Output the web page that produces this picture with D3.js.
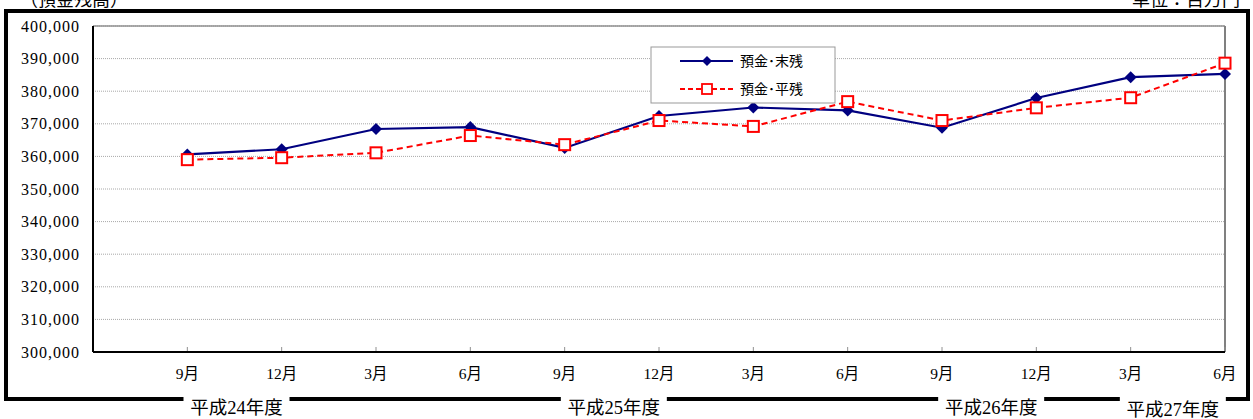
<!DOCTYPE html>
<html>
<head>
<meta charset="utf-8">
<script src="https://cdn.jsdelivr.net/npm/d3@7"></script>
<style>
  html, body { margin: 0; padding: 0; background: #fff; }
  svg { display: block; }
  text { font-family: "Liberation Serif", "Noto Sans CJK JP", serif; fill: #000; }
</style>
</head>
<body>
<svg id="chart" width="1253" height="419"></svg>
<script>
// ---- data ----
const categories = ["9月", "12月", "3月", "6月", "9月", "12月", "3月", "6月", "9月", "12月", "3月", "6月"];
const endBalance = [360600, 362200, 368400, 369000, 362600, 372400, 375000, 374100, 368800, 377900, 384300, 385300];
const avgBalance = [359000, 359600, 361100, 366400, 363600, 371000, 369200, 376800, 371000, 374900, 378000, 388600];
const seriesNames = ["預金･末残", "預金･平残"];
const yTicks = [300000, 310000, 320000, 330000, 340000, 350000, 360000, 370000, 380000, 390000, 400000];
const yearLabels = ["平成24年度", "平成25年度", "平成26年度", "平成27年度"];
const yearLabelSpan = [[0, 1], [4, 5], [8, 9], [10, 11]];
const titleLeft = "（預金残高）";
const titleRight = "単位：百万円";

// ---- layout ----
const svg = d3.select("#chart");
const plot = { left: 93, right: 1225, top: 26, bottom: 352 };

const x = d3.scaleLinear().domain([0, categories.length]).range([plot.left, plot.right]);
const y = d3.scaleLinear().domain([300000, 400000]).range([plot.bottom, plot.top]);
const px = i => x(i + 1);

// titles (cut by the top edge, as in the reference)
svg.append("text").attr("x", 20).attr("y", 6).attr("font-size", 18).text(titleLeft);
svg.append("text").attr("x", 1240).attr("y", 6).attr("text-anchor", "end").attr("font-size", 18).text(titleRight);

// outer frame
svg.append("rect").attr("x", 6).attr("y", 11).attr("width", 1242).attr("height", 388)
  .attr("fill", "none").attr("stroke", "#000").attr("stroke-width", 4);

// gridlines
svg.append("g").selectAll("line").data(yTicks.filter(d => d !== 300000)).join("line")
  .attr("x1", plot.left).attr("x2", plot.right)
  .attr("y1", d => y(d)).attr("y2", d => y(d))
  .attr("stroke", "#a8a8a8").attr("stroke-width", 1).attr("stroke-dasharray", "1,1");

// plot border top/right gray
svg.append("line").attr("x1", plot.left).attr("x2", plot.right).attr("y1", plot.top).attr("y2", plot.top)
  .attr("stroke", "#909090").attr("stroke-width", 1.5);
svg.append("line").attr("x1", plot.right).attr("x2", plot.right).attr("y1", plot.top).attr("y2", plot.bottom)
  .attr("stroke", "#808080").attr("stroke-width", 2);

// y axis labels
svg.append("g").selectAll("text").data(yTicks).join("text")
  .attr("x", 80).attr("y", d => y(d)).attr("dy", "0.35em")
  .attr("text-anchor", "end").attr("font-size", 16).attr("letter-spacing", "1px")
  .text(d => d3.format(",")(d));

// x axis ticks
svg.append("g").selectAll("line").data(categories).join("line")
  .attr("x1", (d, i) => px(i)).attr("x2", (d, i) => px(i))
  .attr("y1", plot.bottom).attr("y2", plot.bottom - 5)
  .attr("stroke", "#909090").attr("stroke-width", 1);

// axes lines (black)
svg.append("line").attr("x1", plot.left).attr("x2", plot.left).attr("y1", plot.top).attr("y2", plot.bottom)
  .attr("stroke", "#000").attr("stroke-width", 2);
svg.append("line").attr("x1", plot.left).attr("x2", plot.right).attr("y1", plot.bottom).attr("y2", plot.bottom)
  .attr("stroke", "#000").attr("stroke-width", 2);

// x labels
svg.append("g").selectAll("text").data(categories).join("text")
  .attr("x", (d, i) => px(i)).attr("y", 379)
  .attr("text-anchor", "middle").attr("font-size", 15.5)
  .text(d => d);

// year labels with gaps in bottom frame
const yl = svg.append("g");
yearLabels.forEach((lab, k) => {
  const cx = (px(yearLabelSpan[k][0]) + px(yearLabelSpan[k][1])) / 2 + (k === 3 ? -5 : 2);
  yl.append("rect").attr("x", cx - 53).attr("y", 394).attr("width", 106).attr("height", 25).attr("fill", "#fff");
  yl.append("text").attr("x", cx).attr("y", k === 3 ? 416 : 414).attr("text-anchor", "middle")
    .attr("font-size", 18.5).text(lab);
});

// lines
const line = d3.line().x((d, i) => px(i)).y(d => y(d));
svg.append("path").datum(endBalance).attr("d", line)
  .attr("fill", "none").attr("stroke", "#000080").attr("stroke-width", 2.2);
svg.append("path").datum(avgBalance).attr("d", line)
  .attr("fill", "none").attr("stroke", "#ff0000").attr("stroke-width", 2).attr("stroke-dasharray", "6,4");

svg.append("g").selectAll("path").data(endBalance).join("path")
  .attr("d", d3.symbol().type(d3.symbolSquare).size(72))
  .attr("transform", (d, i) => `translate(${px(i)},${y(d)}) rotate(45)`)
  .attr("fill", "#000080");
svg.append("g").selectAll("rect").data(avgBalance).join("rect")
  .attr("x", (d, i) => px(i) - 5.5).attr("y", d => y(d) - 5.5)
  .attr("width", 11).attr("height", 11)
  .attr("fill", "#fff").attr("stroke", "#ff0000").attr("stroke-width", 2);

// legend
const lg = svg.append("g");
lg.append("rect").attr("x", 651).attr("y", 47).attr("width", 184).attr("height", 56)
  .attr("fill", "#fff").attr("stroke", "#999").attr("stroke-width", 1);
const ly = [61, 89];
lg.append("line").attr("x1", 680).attr("x2", 733).attr("y1", ly[0]).attr("y2", ly[0])
  .attr("stroke", "#000080").attr("stroke-width", 2.2);
lg.append("path").attr("d", d3.symbol().type(d3.symbolSquare).size(50))
  .attr("transform", `translate(707,${ly[0]}) rotate(45)`).attr("fill", "#000080");
lg.append("line").attr("x1", 680).attr("x2", 733).attr("y1", ly[1]).attr("y2", ly[1])
  .attr("stroke", "#ff0000").attr("stroke-width", 2).attr("stroke-dasharray", "5,3");
lg.append("rect").attr("x", 702).attr("y", ly[1] - 5).attr("width", 10).attr("height", 10)
  .attr("fill", "#fff").attr("stroke", "#ff0000").attr("stroke-width", 1.8);
seriesNames.forEach((n, i) => {
  lg.append("text").attr("x", 740).attr("y", ly[i]).attr("dy", "0.35em")
    .attr("font-size", 14).attr("fill", "#333").text(n);
});
</script>
</body>
</html>
